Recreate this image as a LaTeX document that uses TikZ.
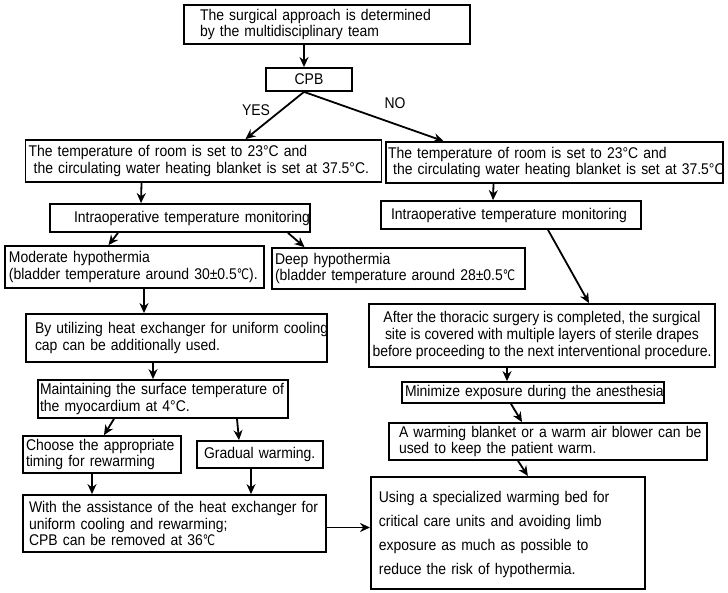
\documentclass[tikz,border=0pt]{standalone}
\usepackage{fontspec}
\setmainfont{Liberation Sans}[FakeStretch=0.9]
\newfontfamily\djv{DejaVu Sans}[FakeStretch=0.75]
\newcommand\degc{{\djv\fontsize{14.5}{14.5}\selectfont ℃}}
\usetikzlibrary{arrows.meta}
\begin{document}
\begin{tikzpicture}[x=1pt,y=-1pt,
  box/.style={draw,line width=1.8pt,inner sep=0pt,font=\fontsize{15.5}{16.7}\selectfont,align=left},
  arr/.style={line width=1.8pt,-{Stealth[length=10pt,width=9pt]}}]
\useasboundingbox (0,0) rectangle (728,593);
\newcommand\bx[7]{\node[box,minimum width={#4-#2},minimum height={#5-#3},text width={#4-#2-#6}] (#1) at ({(#2+#4)/2},{(#3+#5)/2}) {#7};}
\bx{top}{184}{5}{470}{44}{32}{\mbox{The surgical approach is determined}\\\mbox{by the multidisciplinary team}}
\node[box,minimum width=86,minimum height=23,align=center] (cpb) at (309,79.5) {CPB};
\bx{lt}{25.5}{140}{381.5}{182}{6}{\mbox{The temperature of room is set to 23°C and}\\\mbox{ the circulating water heating blanket is set at 37.5°C.}}
\bx{rt}{386}{142}{723}{183}{4}{\mbox{The temperature of room is set to 23°C and}\\\mbox{ the circulating water heating blanket is set at 37.5°C}}
\bx{il}{50}{204}{310}{232}{28}{\mbox{\hspace*{10pt}Intraoperative temperature monitoring}}
\bx{ir}{381}{201}{641}{229}{20}{\mbox{Intraoperative temperature monitoring}}
\bx{mod}{5}{246}{264}{288}{8}{\mbox{Moderate hypothermia}\\\mbox{(bladder temperature around 30±0.5\degc).}}
\bx{deep}{272}{248}{525}{289}{6}{\mbox{Deep hypothermia}\\\mbox{(bladder temperature around 28±0.5\degc}}
\bx{heat}{26}{314}{327}{362}{18}{\mbox{By utilizing heat exchanger for uniform cooling}\\\mbox{cap can be additionally used.}}
\bx{maint}{38}{380}{288}{418}{4}{\mbox{Maintaining the surface temperature of}\\\mbox{the myocardium at 4°C.}}
\bx{choose}{23}{436}{181}{473}{6}{\mbox{Choose the appropriate}\\\mbox{timing for rewarming}}
\bx{grad}{197}{441}{323}{468}{14}{\mbox{Gradual warming.}}
\bx{with}{23}{495}{326}{552}{12}{\mbox{With the assistance of the heat exchanger for}\\\mbox{uniform cooling and rewarming;}\\\mbox{CPB can be removed at 36\degc}}
\node[box,minimum width=346,minimum height=63,align=center] (rb) at (542,335.5) {After the thoracic surgery is completed, the surgical\\site is covered with multiple layers of sterile drapes\\before proceeding to the next interventional procedure.};
\bx{min}{402}{382}{664}{403}{6}{\mbox{Minimize exposure during the anesthesia}}
\bx{warm}{389}{423}{707}{460}{20}{\mbox{A warming blanket or a warm air blower can be}\\\mbox{used to keep the patient warm.}}
\node[box,minimum width=274,minimum height=112,text width=258,font=\fontsize{15.5}{24}\selectfont,anchor=north west,inner sep=0pt] (using) at (370,476) {\rule{0pt}{14pt}\mbox{Using a specialized warming bed for}\\\mbox{critical care units and avoiding limb}\\\mbox{exposure as much as possible to}\\\mbox{reduce the risk of hypothermia.}\\[26pt]};
\node[font=\fontsize{15.5}{16}\selectfont] (yes) at (256,110) {YES};
\node[font=\fontsize{15.5}{16}\selectfont] (no) at (395,103) {NO};
\draw[arr] ([xshift=-5pt]cpb.north |- top.south) -- ([xshift=-5pt]cpb.north);
\draw[arr] ([xshift=-5pt]cpb.south) -- ([xshift=42pt]lt.north);
\draw[arr] ([xshift=-5pt]cpb.south) -- ([xshift=-111pt]rt.north);
\draw[arr] ([xshift=-62pt]lt.south) -- ([xshift=-39pt]il.north);
\draw[arr] ([xshift=-61pt]rt.south) -- ([xshift=-18pt]ir.north);
\draw[arr] ([xshift=-62pt]il.south) -- ([xshift=-26pt]mod.north);
\draw[arr] ([xshift=108pt]il.south) -- ([xshift=-94pt]deep.north);
\draw[arr] ([xshift=37pt]ir.south) -- ([xshift=47pt]rb.north);
\draw[arr] ([xshift=9.5pt]mod.south) -- ([xshift=-32.5pt]heat.north);
\draw[arr] ([xshift=-23.5pt]heat.south) -- ([xshift=-10pt]maint.north);
\draw[arr] ([xshift=-49pt]maint.south) -- ([xshift=2pt]choose.north);
\draw[arr] ([xshift=74pt]maint.south) -- ([xshift=-21pt]grad.north);
\draw[arr] ([xshift=-10pt]choose.south) -- ([xshift=-82.5pt]with.north);
\draw[arr] ([xshift=-9pt]grad.south) -- ([xshift=76.5pt]with.north);
\draw[arr] ([yshift=-4pt]with.east) -- ([yshift=-4pt]using.west |- with.east);
\draw[arr] ([xshift=-35pt]rb.south) -- ([xshift=-26pt]min.north);
\draw[arr] ([xshift=-22pt]min.south) -- ([xshift=-26pt]warm.north);
\draw[arr] ([xshift=-30pt]warm.south) -- ([xshift=20pt]using.north);
\end{tikzpicture}
\end{document}
